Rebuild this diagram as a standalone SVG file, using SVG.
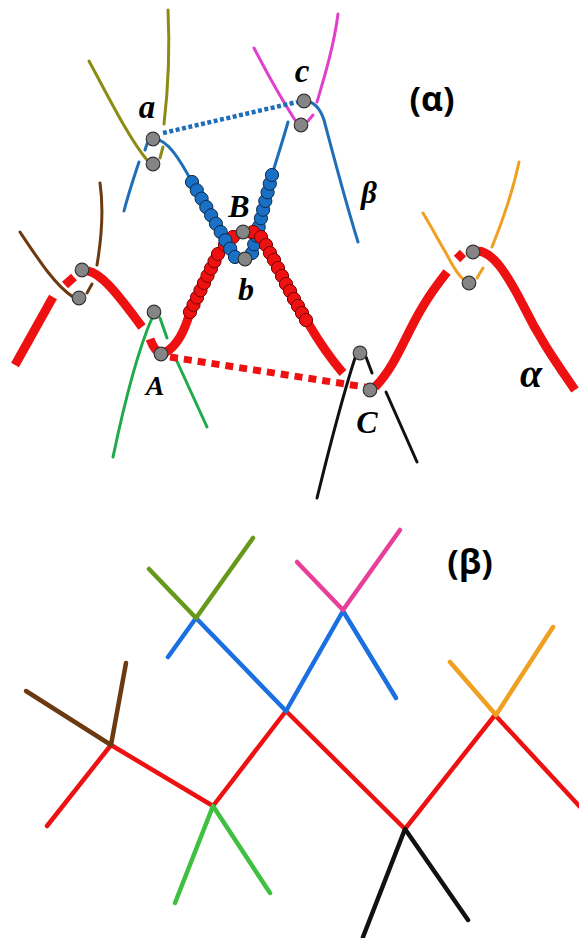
<svg xmlns="http://www.w3.org/2000/svg" width="579" height="938" viewBox="0 0 579 938">
<style>
.th{fill:none;stroke-width:3;stroke-linecap:round}
.red{fill:none;stroke:#ee1111;stroke-width:9;stroke-linecap:butt}
.ol{stroke:#8c8c14}.pk{stroke:#e040cc}.bl{stroke:#1f6fb8}.gr{stroke:#1faa4c}.bk{stroke:#111}.br{stroke:#6b3a10}.or{stroke:#f0a020}
.ball{fill:#858585;stroke:#333;stroke-width:1.2}
.rb{fill:#ee1111;stroke:#7a0000;stroke-width:1}
.bb{fill:#1a70c4;stroke:#0a2a4a;stroke-width:1}
.lab{font-family:"Liberation Serif",serif;font-weight:bold;font-style:italic;fill:#000;text-anchor:middle}
.ttl{font-family:"Open Sans","Liberation Sans",sans-serif;font-weight:bold;fill:#000;text-anchor:middle}
.bt{fill:none;stroke-width:4.5;stroke-linecap:round;stroke-linejoin:round}
</style>
<rect width="579" height="938" fill="#fff"/>
<g id="panel-alpha">
<g id="side-strands">
<path class="th ol" d="M89,61 C110,100 130,140 147,160"/>
<path class="th ol" d="M160,158 L163,147"/>
<path class="th ol" d="M164,124 C168,90 170,50 168,10"/>
<path class="th pk" d="M254,48 C268,75 282,100 295,120"/>
<path class="th pk" d="M308,121 L313,115"/>
<path class="th pk" d="M317,102 C325,75 334,45 338,14"/>
<path class="th br" d="M20,232 C40,262 55,285 73,297"/>
<path class="th br" d="M87,293 L92,284"/>
<path class="th br" d="M97,265 C102,235 104,210 100,183"/>
<path class="th or" d="M423,213 C432,228 440,243 446,253 C452,265 458,275 464,280"/>
<path class="th or" d="M477,278 L483,268"/>
<path class="th or" d="M492,247 C505,215 513,190 519,162"/>
<path class="th gr" d="M113,457 C125,400 138,350 152,318"/>
<path class="th gr" d="M160,318 L167,338"/>
<path class="th gr" d="M175,357 L207,427"/>
<path class="th bk" d="M317,498 C330,445 343,395 355,358"/>
<path class="th bk" d="M366,357 L372,373"/>
<path class="th bk" d="M386,392 L417,462"/>
</g>
<g id="connectors">
<path fill="none" stroke="#1f6fb8" stroke-width="4.5" stroke-dasharray="4 2.5" d="M163,133 L297,102"/>
<path fill="none" stroke="#ee1111" stroke-width="7" stroke-dasharray="8 6" d="M170,357 L365,387"/>
</g>
<g id="strand-beta">
<path class="th bl" d="M155,139 C168,140 180,160 192,182"/>
<path class="th bl" d="M147,144 L145,150"/>
<path class="th bl" d="M139,162 C133,180 128,195 124,211"/>
<path class="th bl" d="M304,101 C314,101 320,108 324,120 C332,150 345,200 358,242"/>
<path class="th bl" d="M288,122 C283,140 277,158 272,175"/>
<path class="th bl" d="M192,182 L235,257 L245,262 L252,253 L272,175"/>
</g>
<g id="strand-alpha">
<path class="red" d="M15,365 L53,297"/>
<path class="red" d="M65,285 L74,277"/>
<path class="red" d="M88,271 C100,273 115,290 142,327"/>
<path class="red" d="M150,339 C153,347 157,352 161,354"/>
<path class="red" d="M166,352 C178,345 185,330 190,312"/>
<path class="red" d="M190,312 L218,254 L233,236 L243,232 L262,238 L308,323"/>
<path class="red" d="M308,323 C318,340 330,358 343,373"/>
<path class="red" d="M375,387 C390,372 400,350 410,330 C425,300 437,285 447,272"/>
<path class="red" d="M457,259 L463,253"/>
<path class="red" d="M478,251 C492,252 505,270 523,305 C540,340 558,365 575,390"/>
</g>
<g id="beads">
<g id="red-left-beads">
<circle class="rb" cx="190" cy="312" r="6.6"/><circle class="rb" cx="193.5" cy="304.8" r="6.6"/><circle class="rb" cx="197" cy="297.5" r="6.6"/><circle class="rb" cx="200.5" cy="290.3" r="6.6"/><circle class="rb" cx="204" cy="283" r="6.6"/><circle class="rb" cx="207.5" cy="275.8" r="6.6"/><circle class="rb" cx="211" cy="268.5" r="6.6"/><circle class="rb" cx="214.5" cy="261.3" r="6.6"/><circle class="rb" cx="218" cy="254" r="6.6"/><circle class="rb" cx="225" cy="245" r="6.6"/><circle class="rb" cx="233" cy="237" r="6.6"/>
</g>
<g id="blue-left-beads">
<circle class="bb" cx="192" cy="182" r="6.6"/><circle class="bb" cx="196.8" cy="190.3" r="6.6"/><circle class="bb" cx="201.6" cy="198.7" r="6.6"/><circle class="bb" cx="206.3" cy="207" r="6.6"/><circle class="bb" cx="211.1" cy="215.3" r="6.6"/><circle class="bb" cx="215.9" cy="223.7" r="6.6"/><circle class="bb" cx="220.7" cy="232" r="6.6"/><circle class="bb" cx="225.4" cy="240.3" r="6.6"/><circle class="bb" cx="230.2" cy="248.7" r="6.6"/><circle class="bb" cx="235" cy="257" r="6.6"/>
</g>
<g id="blue-right-beads">
<circle class="bb" cx="252" cy="253" r="6.6"/><circle class="bb" cx="254.2" cy="244.3" r="6.6"/><circle class="bb" cx="256.4" cy="235.7" r="6.6"/><circle class="bb" cx="258.7" cy="227" r="6.6"/><circle class="bb" cx="260.9" cy="218.3" r="6.6"/><circle class="bb" cx="263.1" cy="209.7" r="6.6"/><circle class="bb" cx="265.3" cy="201" r="6.6"/><circle class="bb" cx="267.6" cy="192.3" r="6.6"/><circle class="bb" cx="269.8" cy="183.7" r="6.6"/><circle class="bb" cx="272" cy="175" r="6.6"/>
</g>
<g id="red-right-beads">
<circle class="rb" cx="253" cy="232" r="6.6"/><circle class="rb" cx="261" cy="237" r="6.6"/><circle class="rb" cx="266" cy="245" r="6.6"/><circle class="rb" cx="270" cy="253" r="6.6"/><circle class="rb" cx="274" cy="260" r="6.6"/><circle class="rb" cx="278" cy="268" r="6.6"/><circle class="rb" cx="282" cy="276" r="6.6"/><circle class="rb" cx="286" cy="284" r="6.6"/><circle class="rb" cx="290" cy="291" r="6.6"/><circle class="rb" cx="294" cy="299" r="6.6"/><circle class="rb" cx="298" cy="306" r="6.6"/><circle class="rb" cx="302" cy="313" r="6.6"/><circle class="rb" cx="306" cy="320" r="6.6"/>
</g>
</g>
<g id="junction-balls">
<circle class="ball" cx="153" cy="139" r="6.8"/><circle class="ball" cx="153" cy="164" r="6.8"/>
<circle class="ball" cx="304" cy="101" r="6.8"/><circle class="ball" cx="301" cy="125" r="6.8"/>
<circle class="ball" cx="243" cy="232" r="6.8"/><circle class="ball" cx="245" cy="259" r="6.8"/>
<circle class="ball" cx="82" cy="270" r="6.8"/><circle class="ball" cx="79" cy="298" r="6.8"/>
<circle class="ball" cx="154" cy="312" r="6.8"/><circle class="ball" cx="161" cy="354" r="6.8"/>
<circle class="ball" cx="360" cy="353" r="6.8"/><circle class="ball" cx="370" cy="390" r="6.8"/>
<circle class="ball" cx="473" cy="252" r="6.8"/><circle class="ball" cx="469" cy="283" r="6.8"/>
</g>
<g id="labels-alpha">
<text class="lab" x="147" y="118" font-size="33">a</text>
<text class="lab" x="302" y="82" font-size="33">c</text>
<text class="lab" x="239" y="217" font-size="32">B</text>
<text class="lab" x="246" y="300" font-size="32">b</text>
<text class="lab" x="155" y="395" font-size="28">A</text>
<text class="lab" x="367" y="433" font-size="32">C</text>
<text class="lab" x="369" y="203" font-size="31">β</text>
<text class="lab" x="531" y="387" font-size="40">α</text>
<text class="ttl" x="432" y="111" font-size="34">(α)</text>
</g>
</g>
<g id="panel-beta">
<g id="tree-lines">
<polyline class="bt" stroke="#ee1111" stroke-width="6" points="47,826 111,745 213,806 286,711 405,829 495,715 582,809"/>
<polyline class="bt" stroke="#6b3a10" stroke-width="3.5" points="26,691 111,745 126,663"/>
<polyline class="bt" stroke="#40c040" points="175,903 213,806 270,893"/>
<polyline class="bt" stroke="#111" points="363,937 405,829 468,920"/>
<polyline class="bt" stroke="#1a70e0" points="168,657 196,618 286,711"/>
<polyline class="bt" stroke="#1a70e0" points="286,711 343,611 396,698"/>
<polyline class="bt" stroke="#66991a" points="149,569 196,618 253,538"/>
<polyline class="bt" stroke="#e8409a" points="297,562 343,610 400,530"/>
<polyline class="bt" stroke="#f0a020" points="450,662 496,715 553,627"/>
</g>
<text class="ttl" x="470" y="574" font-size="34">(β)</text>
</g>
</svg>
